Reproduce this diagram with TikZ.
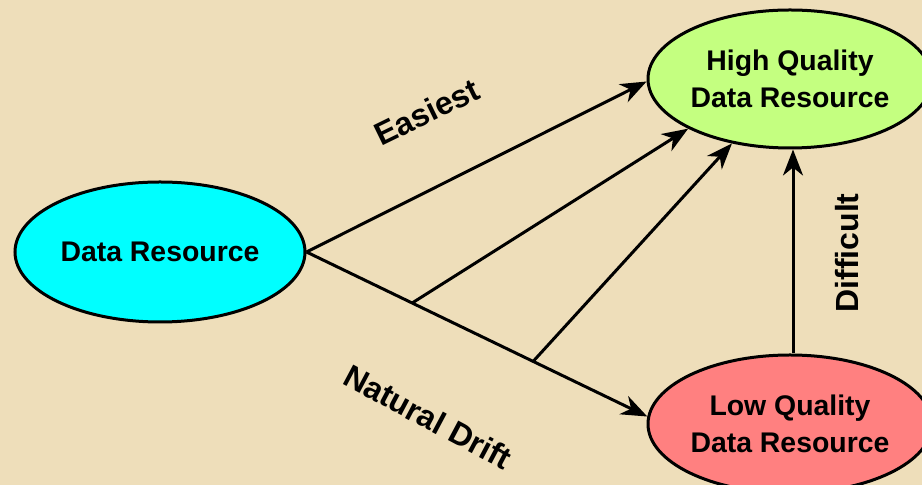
\documentclass[tikz,border=0pt]{standalone}
\usepackage{fontspec}
\setmainfont{Liberation Sans}
\usetikzlibrary{shapes}
\usetikzlibrary{arrows.meta, calc}
\definecolor{parchment}{RGB}{238,222,186}
\definecolor{drcyan}{RGB}{0,255,255}
\definecolor{hqgreen}{RGB}{196,255,128}
\definecolor{lqred}{RGB}{255,128,128}

\begin{document}
\begin{tikzpicture}[x=0.5pt, y=-0.5pt,
    res/.style={ellipse, draw, line width=1.5pt, inner sep=0pt, align=center,
      font=\fontsize{14.2}{18.5}\selectfont\bfseries},
    link/.style={line width=1.5pt, -{Stealth[length=13pt, width=10pt, inset=4pt]}},
    lbl/.style={font=\fontsize{16}{19}\selectfont\bfseries}]
	  \fill[parchment] (0,0) rectangle (922,485);
	  \useasboundingbox (0,0) rectangle (922,485);

	  \node[res, fill=drcyan, minimum width=145pt, minimum height=70pt] (dr) at (160,252) {Data Resource};
	  \node[res, fill=hqgreen, minimum width=142pt, minimum height=69pt] (hq) at (790,79) {High Quality\\Data Resource};
	  \node[res, fill=lqred, minimum width=142pt, minimum height=69pt] (lq) at (790,424) {Low Quality\\Data Resource};

	  \draw[link] (dr.east) -- (hq.181.5);
	  \draw[link] (dr.east) -- (lq.177);
	  \coordinate (b1) at ($(dr.east)!0.31!(lq.177)$);
	  \coordinate (b2) at ($(dr.east)!0.665!(lq.177)$);
	  \draw[link] (b1) -- (hq.206);
	  \draw[link] (b2) -- (hq.228);
	  \draw[link] ([xshift=1.5pt]lq.north) -- ([xshift=1.5pt]hq.south);

	  \node[lbl, rotate=26] (easy) at (427,112) {Easiest};
	  \node[lbl, rotate=-28] (drift) at (428,417) {Natural Drift};
	  \node[lbl, rotate=90] (hard) at (847,253) {Difficult};
	\end{tikzpicture}
\end{document}
